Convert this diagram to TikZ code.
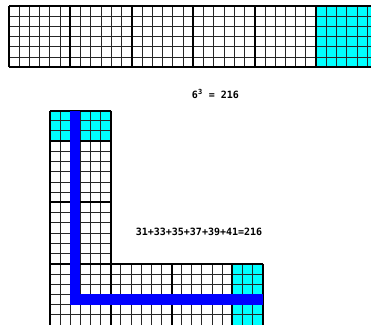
\documentclass[tikz,border=0pt]{standalone}
\usepackage{fontspec}
\newfontfamily\labelfont{DejaVu Sans Mono}
\definecolor{aqua}{RGB}{0,255,255}
\definecolor{pureblue}{RGB}{0,0,255}
\begin{document}
\begin{tikzpicture}[x=0.75pt,y=-0.75pt,
  gridthin/.style={line width=0.75pt, black!85},
  gridthick/.style={line width=1.5pt, black},
  lbl/.style={font=\labelfont\bfseries\fontsize{7.5pt}{9pt}\selectfont, inner sep=0pt}]
\useasboundingbox (0,0) rectangle (371,325);
\clip (0,0) rectangle (371,325);
% ---------- top strip ----------
\def\tx{9}\def\ty{6.3}\def\tcx{10.24}\def\tcy{10.17}
\fill[aqua] ({\tx+30*\tcx},\ty) rectangle ({\tx+36*\tcx},{\ty+6*\tcy});
\foreach \i in {0,...,36}
  \draw[gridthin] ({\tx+\i*\tcx},\ty) -- ({\tx+\i*\tcx},{\ty+6*\tcy});
\foreach \j in {0,...,6}
  \draw[gridthin] (\tx,{\ty+\j*\tcy}) -- ({\tx+36*\tcx},{\ty+\j*\tcy});
\foreach \i in {0,6,...,36}
  \draw[gridthick] ({\tx+\i*\tcx},\ty) -- ({\tx+\i*\tcx},{\ty+6*\tcy});
\draw[gridthick] (\tx,\ty) -- ({\tx+36*\tcx},\ty);
\draw[gridthick] (\tx,{\ty+6*\tcy}) -- ({\tx+36*\tcx},{\ty+6*\tcy});
% ---------- L shape ----------
\def\bx{50}\def\by{110.5}\def\bcx{10.13}\def\bcy{10.22}
\fill[aqua] (\bx,\by) rectangle ({\bx+6*\bcx},{\by+3*\bcy});
\fill[aqua] ({\bx+18*\bcx},{\by+15*\bcy}) rectangle ({\bx+21*\bcx},{\by+21*\bcy});
% thin lines
\foreach \i in {0,...,6}
  \draw[gridthin] ({\bx+\i*\bcx},\by) -- ({\bx+\i*\bcx},{\by+21*\bcy});
\foreach \i in {7,...,21}
  \draw[gridthin] ({\bx+\i*\bcx},{\by+15*\bcy}) -- ({\bx+\i*\bcx},{\by+21*\bcy});
\foreach \j in {0,...,14}
  \draw[gridthin] (\bx,{\by+\j*\bcy}) -- ({\bx+6*\bcx},{\by+\j*\bcy});
\foreach \j in {15,...,20}
  \draw[gridthin] (\bx,{\by+\j*\bcy}) -- ({\bx+21*\bcx},{\by+\j*\bcy});
% thick lines
\draw[gridthick] (\bx,\by) -- (\bx,{\by+21*\bcy});
\draw[gridthick] ({\bx+6*\bcx},\by) -- ({\bx+6*\bcx},{\by+21*\bcy});
\foreach \j in {0,3,9}
  \draw[gridthick] (\bx,{\by+\j*\bcy}) -- ({\bx+6*\bcx},{\by+\j*\bcy});
\draw[gridthick] (\bx,{\by+15*\bcy}) -- ({\bx+21*\bcx},{\by+15*\bcy});
\foreach \i in {12,18,21}
  \draw[gridthick] ({\bx+\i*\bcx},{\by+15*\bcy}) -- ({\bx+\i*\bcx},{\by+21*\bcy});
% blue path
\fill[pureblue] ({\bx+2*\bcx},\by) rectangle ({\bx+3*\bcx},{\by+19*\bcy});
\fill[pureblue] ({\bx+2*\bcx},{\by+18*\bcy}) rectangle ({\bx+21*\bcx},{\by+19*\bcy});
% ---------- labels ----------
\node[lbl] (cube) at (215.5,94) {6\textsuperscript{3} = 216};
\node[lbl] (sum) at (199,232) {31+33+35+37+39+41=216};
\end{tikzpicture}
\end{document}
